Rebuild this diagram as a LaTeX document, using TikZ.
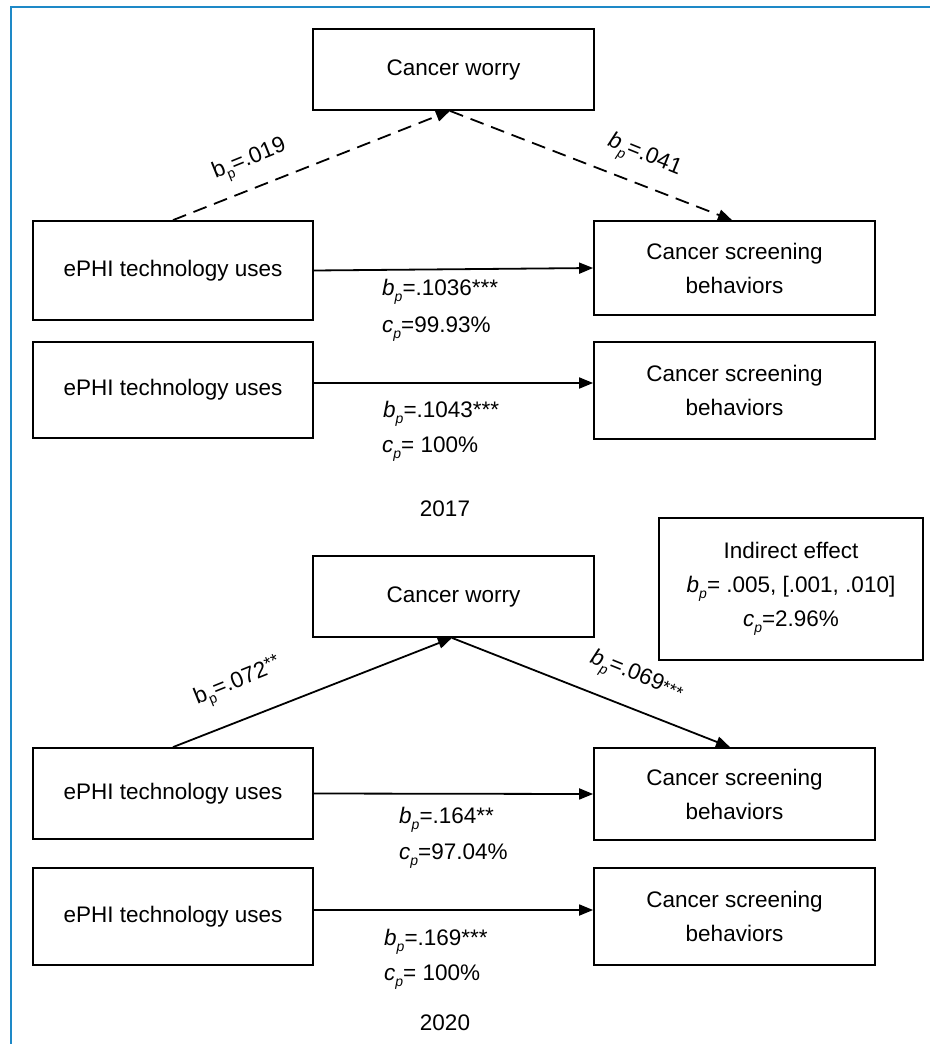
\documentclass[tikz,border=0pt]{standalone}
\usepackage{fontspec}
\setmainfont{Liberation Sans}
\usetikzlibrary{arrows.meta}
\definecolor{frameblue}{RGB}{30,137,199}
\newcommand{\subfnt}{\fontsize{14}{14}\selectfont}
\newcommand{\bpit}{\textit{b}\raisebox{-6pt}{\subfnt\textit{p}}}
\newcommand{\cpit}{\textit{c}\raisebox{-6pt}{\subfnt\textit{p}}}
\newcommand{\bpup}{b\raisebox{-6pt}{\subfnt p}}
\newcommand{\supstars}[1]{\raisebox{5pt}{\fontsize{18}{18}\selectfont #1}}
\newcommand{\midstars}[1]{\raisebox{-1pt}{\fontsize{18}{18}\selectfont #1}}
\begin{document}
\begin{tikzpicture}[x=1pt,y=-1pt,
  every node/.style={font=\fontsize{22.5}{34}\selectfont, inner sep=0pt},
  box/.style={draw, line width=1.8pt, align=center},
  conn/.style={line width=1.8pt, -{Triangle[length=14pt,width=11pt]}},
  dconn/.style={conn, dash pattern=on 14pt off 8pt},
  lbl/.style={anchor=base west}
]
\useasboundingbox (0,0) rectangle (930,1044);
\fill[white] (0,0) rectangle (930,1044);
\draw[frameblue, line width=2pt] (11,1044) -- (11,7) -- (930,7);

% 2017
\node[box, minimum width=281pt, minimum height=81pt] (cw1) at (453.5,69.5) {Cancer worry};
\node[box, minimum width=280pt, minimum height=99pt] (ephi1) at (173,270.5) {ePHI technology uses};
\node[box, minimum width=281pt, minimum height=94pt] (csb1) at (734.5,268) {Cancer screening\\behaviors};
\node[box, minimum width=280pt, minimum height=96pt] (ephi2) at (173,390) {ePHI technology uses};
\node[box, minimum width=281pt, minimum height=97pt] (csb2) at (734.5,390.5) {Cancer screening\\behaviors};

\draw[dconn] (ephi1.north) -- ([xshift=-3.5pt]cw1.south);
\draw[dconn] ([xshift=-3.5pt]cw1.south) -- ([xshift=-2.5pt]csb1.north);
\draw[conn] (ephi1.east) -- (csb1.west);
\draw[conn] ([yshift=7pt]ephi2.east) -- ([yshift=7.5pt]csb2.west);

\node[rotate=22] (l019) at (250,161) {\bpup=.019};
\node[rotate=-22] (l041) at (644,157) {\bpit=.041};
\node[lbl] (l1036) at (382,295) {\bpit=.1036***};
\node[lbl] (l9993) at (382,332) {\cpit=99.93\%};
\node[lbl] (l1043) at (383,417) {\bpit=.1043***};
\node[lbl] (l100a) at (382,452) {\cpit= 100\%};
\node[anchor=base] (y2017) at (445,516) {2017};

% Indirect effect
\node[box, minimum width=264pt, minimum height=142pt] (ind) at (791,589)
  {Indirect effect\\\bpit= .005, [.001, .010]\\\cpit=2.96\%};

% 2020
\node[box, minimum width=281pt, minimum height=81pt] (cw2) at (453.5,596.5) {Cancer worry};
\node[box, minimum width=280pt, minimum height=91pt] (ephi3) at (173,793.5) {ePHI technology uses};
\node[box, minimum width=281pt, minimum height=92pt] (csb3) at (734.5,794) {Cancer screening\\behaviors};
\node[box, minimum width=280pt, minimum height=97pt] (ephi4) at (173,916.5) {ePHI technology uses};
\node[box, minimum width=281pt, minimum height=97pt] (csb4) at (734.5,916.5) {Cancer screening\\behaviors};

\draw[conn] (ephi3.north) -- ([xshift=-1.5pt]cw2.south);
\draw[conn] ([xshift=-1.5pt]cw2.south) -- ([xshift=-4.5pt]csb3.north);
\draw[conn] (ephi3.east) -- (csb3.west);
\draw[conn] ([yshift=6.5pt]ephi4.east) -- ([yshift=6.5pt]csb4.west);

\node[rotate=22] (l072) at (238,683) {\bpup=.072\supstars{**}};
\node[rotate=-22] (l069) at (636,677) {\bpit=.069\midstars{***}};
\node[lbl] (l164) at (399,823) {\bpit=.164**};
\node[lbl] (l9704) at (399,859) {\cpit=97.04\%};
\node[lbl] (l169) at (384,945) {\bpit=.169***};
\node[lbl] (l100b) at (384,980) {\cpit= 100\%};
\node[anchor=base] (y2020) at (445,1030) {2020};
\end{tikzpicture}
\end{document}
